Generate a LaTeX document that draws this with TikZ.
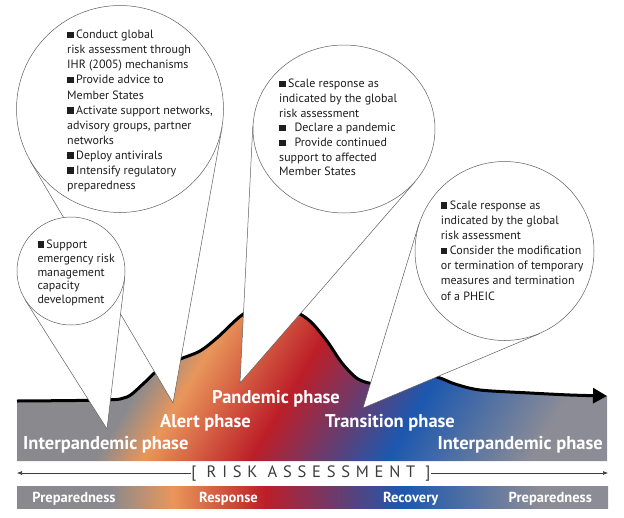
\documentclass[tikz,border=0pt]{standalone}
\usepackage{fontspec}
\setmainfont{PT Sans}
\newfontfamily\riskfont[LetterSpace=35]{PT Sans}
\usetikzlibrary{arrows.meta, positioning, calc, shapes.geometric}

\definecolor{bandgrey}{RGB}{138,138,142}
\definecolor{bandorange}{RGB}{233,150,90}
\definecolor{bandred}{RGB}{188,30,40}
\definecolor{bandblue}{RGB}{28,88,175}
\definecolor{bandgreyb}{RGB}{140,140,150}
\definecolor{bubbleline}{RGB}{95,95,95}
\definecolor{bubbletext}{RGB}{30,30,30}
\definecolor{riskgrey}{RGB}{60,60,60}

\pgfdeclarehorizontalshading{waveshade}{100bp}{%
  color(0bp)=(bandgrey); color(38.8bp)=(bandgrey); color(41.8bp)=(bandorange);
  color(48.5bp)=(bandred); color(57bp)=(bandblue); color(66bp)=(bandgreyb);
  color(100bp)=(bandgreyb)}
\pgfdeclarehorizontalshading{barshade}{100bp}{%
  color(0bp)=(bandgrey); color(32.9bp)=(bandgrey); color(38.2bp)=(bandorange);
  color(46bp)=(bandred); color(57.7bp)=(bandblue); color(69.3bp)=(bandgreyb);
  color(100bp)=(bandgreyb)}

\pgfdeclarelayer{wave}
\pgfdeclarelayer{tails}
\pgfsetlayers{wave,tails,main}

\newcommand{\bul}{\rule[0.5pt]{6.5pt}{6.5pt}\hspace{2.5pt}}
\newcommand{\wavetop}{-- plot[smooth, tension=0.5] coordinates {(17,401) (105,400)
  (127,397) (143,384) (157,371) (178,360) (200,351) (218,337) (242,315) (268,302)
  (296,312) (311,322) (327,341) (342,363) (358,379) (376,384) (400,381) (425,375)
  (440,378) (455,384) (480,390) (530,393) (570,395) (607,396)}}

\begin{document}
\begin{tikzpicture}[x=1pt, y=-1pt,
    bubble/.style={circle, draw=bubbleline, fill=white, line width=0.5pt, inner sep=0pt},
    tail/.style={draw=bubbleline, fill=white, line width=0.5pt},
    note/.style={anchor=north west, align=left, inner sep=0pt, text=bubbletext},
    phase/.style={anchor=base west, inner sep=0pt, text=white, font=\fontsize{18.5}{20}\selectfont\bfseries},
    stage/.style={anchor=base, inner sep=0pt, text=white, font=\fontsize{14.5}{16}\selectfont\bfseries},
    riskarrow/.style={draw=riskgrey, line width=0.6pt, -{Latex[length=5pt, width=4pt]}},
]
\useasboundingbox (0,0) rectangle (624,517);

% Wave with the risk curve
\begin{pgfonlayer}{wave}
  \begin{scope}
    \clip (17,461) \wavetop -- (607,461) -- cycle;
    \begin{scope}[transform canvas={xslant=0.6}]
      \shade[shading=waveshade] (150,280) rectangle (950,470);
    \end{scope}
  \end{scope}
  \draw[line width=3pt, -{Triangle[length=14pt, width=15pt]}] (17,401) \wavetop;
\end{pgfonlayer}

% Bubbles
\node[bubble, minimum size=207pt] (alertbub) at (120,109) {};
\node[bubble, minimum size=108pt] (interbub) at (71,271) {};
\node[bubble, ellipse, minimum width=182pt, minimum height=168pt] (pandbub) at (344,129) {};
\node[bubble, minimum size=179pt] (transbub) at (504.5,251) {};

% Tips of the tails
\coordinate (alerttip) at (173,403);
\coordinate (intertip) at (107,429);
\coordinate (pandtip) at (240,383);
\coordinate (transtip) at (363,408);

\begin{pgfonlayer}{tails}
  \filldraw[tail] (alertbub.210) -- (alerttip) -- (alertbub.-10) -- cycle;
  \filldraw[tail] (interbub.212) -- (intertip) -- (interbub.-7) -- cycle;
  \filldraw[tail] (pandbub.178) -- (pandtip) -- (pandbub.-37) -- cycle;
  \filldraw[tail] (transbub.163) -- (transtip) -- (transbub.-67) -- cycle;
\end{pgfonlayer}

% Bubble texts
\node[note, font=\fontsize{12}{15.07}\selectfont] (alerttext) at (67,30) {\bul Conduct global\\
  risk assessment through\\ IHR (2005) mechanisms\\ \bul Provide advice to\\ Member States\\
  \bul Activate support networks,\\ advisory groups, partner\\ networks\\
  \bul Deploy antivirals\\ \bul Intensify regulatory\\ preparedness};
\node[note, font=\fontsize{12}{14.7}\selectfont] (pandtext) at (279,79) {\bul Scale response as\\
  indicated by the global\\ risk assessment\\ \bul\ \ Declare a pandemic\\
  \bul\ \ Provide continued\\ support to affected\\ Member States};
\node[note, font=\fontsize{12}{15.1}\selectfont] (transtext) at (440.7,200.7) {\bul Scale response as\\
  indicated by the global\\ risk assessment\\ \bul Consider the modification\\
  or termination of temporary\\ measures and termination\\ of a PHEIC};
\node[note, font=\fontsize{12}{13.8}\selectfont] (intertext) at (37.3,239.7) {\bul Support\\
  emergency risk\\ management\\ capacity\\ development};

% Phase labels
\node[phase] (interleft) at (23,449) {Interpandemic phase};
\node[phase] (alert) at (160,427) {Alert phase};
\node[phase] (pandemic) at (212,403.5) {Pandemic phase};
\node[phase] (transition) at (325,427) {Transition phase};
\node[phase, anchor=base east] (interright) at (603,449) {Interpandemic phase};

% Risk assessment
\node[anchor=base, inner sep=0pt, text=riskgrey, font=\riskfont\fontsize{16.5}{18}\selectfont] (risk) at (311,477.3) {[\ RISK ASSESSMENT\ ]};
\coordinate (riskl) at (17,473);
\coordinate (riskr) at (608,473);
\draw[riskarrow] (risk.west |- riskl) -- (riskl);
\draw[riskarrow] (risk.east |- riskr) -- (riskr);

% Stages bar
\node[shade, shading=barshade, minimum width=591pt, minimum height=22pt, inner sep=0pt] (bar) at (312.5,497) {};
\node[stage] (prepleft) at (74,502) {Preparedness};
\node[stage] (response) at (228.5,502) {Response};
\node[stage] (recovery) at (410.7,502) {Recovery};
\node[stage] (prepright) at (550.3,502) {Preparedness};
\end{tikzpicture}
\end{document}
